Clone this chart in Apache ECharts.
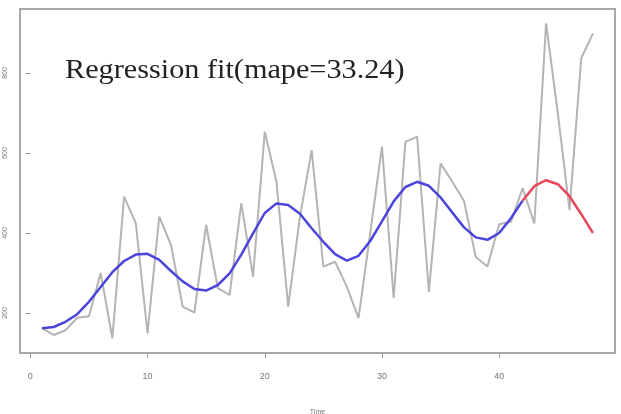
<!DOCTYPE html>
<html lang="en" style="height: 100%">
<head>
  <meta charset="utf-8">
</head>
<body style="height: 100%; margin: 0; background-color:#ffffff;">
  <div id="container" style="height: 100%"></div>

<script src="https://fastly.jsdelivr.net/npm/echarts@6/dist/echarts.min.js"></script>

<script>
  var dom = document.getElementById('container');
  var myChart = echarts.init(dom);

  // observed series, t = 1..48
  var actual = [162, 145, 157, 188, 192, 300, 137, 491, 424, 149, 441, 370,
                216, 201, 420, 262, 245, 474, 291, 653, 528, 216, 440, 607,
                316, 328, 266, 187, 400, 616, 237, 628, 641, 253, 574, 528,
                480, 340, 316, 422, 428, 512, 424, 924, 700, 457, 837, 899];
  // regression fit, t = 1..42
  var fitted = [162, 165, 178, 197, 228, 265, 302, 330, 346, 348, 333, 305,
                279, 260, 256, 270, 299, 346, 399, 450, 474, 470, 448, 412,
                378, 347, 331, 343, 380, 429, 479, 515, 528, 518, 489, 451,
                414, 389, 383, 400, 437, 481];
  // forecast, t = 42..48
  var forecast = [481, 517, 532, 522, 492, 447, 400];
  var forecastStart = 42;

  var xTicks = [0, 10, 20, 30, 40];
  var yTicks = [200, 400, 600, 800];

  var actualData = actual.map(function (v, i) { return [i + 1, v]; });
  var fittedData = fitted.map(function (v, i) { return [i + 1, v]; });
  var forecastData = forecast.map(function (v, i) { return [forecastStart + i, v]; });

  var option = {
    animation: false,
    grid: {
      left: 20,
      right: 6,
      top: 9,
      bottom: 61,
      containLabel: false,
      outerBoundsMode: 'none',
      show: true,
      borderColor: '#a8a8a8',
      borderWidth: 2,
      backgroundColor: '#fff'
    },
    graphic: [{
      type: 'text',
      x: 65,
      y: 71,
      scaleX: 1.12,
      style: {
        text: 'Regression fit(mape=33.24)',
        x: 0,
        y: 0,
        fill: '#222',
        font: '27px "Liberation Serif"',
        verticalAlign: 'middle'
      }
    }],
    xAxis: {
      type: 'value',
      min: -0.88,
      max: 49.88,
      name: 'Time',
      nameLocation: 'middle',
      nameGap: 56,
      nameTextStyle: { fontSize: 7, color: '#777', fontFamily: 'Liberation Sans' },
      axisLine: { show: false },
      splitLine: { show: false },
      axisTick: { show: true, length: 5, customValues: xTicks, lineStyle: { color: '#999' } },
      axisLabel: { customValues: xTicks, margin: 19, fontSize: 9, color: '#777', fontFamily: 'Liberation Sans' }
    },
    yAxis: {
      type: 'value',
      min: 100,
      max: 960,
      axisLine: { show: false },
      splitLine: { show: false },
      axisTick: { show: true, length: 5, customValues: yTicks, lineStyle: { color: '#999' } },
      axisLabel: { customValues: yTicks, rotate: 90, margin: 11, fontSize: 7, color: '#777', fontFamily: 'Liberation Sans' }
    },
    series: [{
      type: 'line',
      data: actualData,
      showSymbol: false,
      lineStyle: { color: '#b4b4b4', width: 2 }
    }, {
      type: 'line',
      data: fittedData,
      showSymbol: false,
      lineStyle: { color: '#4b45dc', width: 2.5 }
    }, {
      type: 'line',
      data: forecastData,
      showSymbol: false,
      lineStyle: { color: '#e8475c', width: 2.5 }
    }]
  };

  myChart.setOption(option);
  window.addEventListener('resize', myChart.resize);
</script>

</body>
</html>
